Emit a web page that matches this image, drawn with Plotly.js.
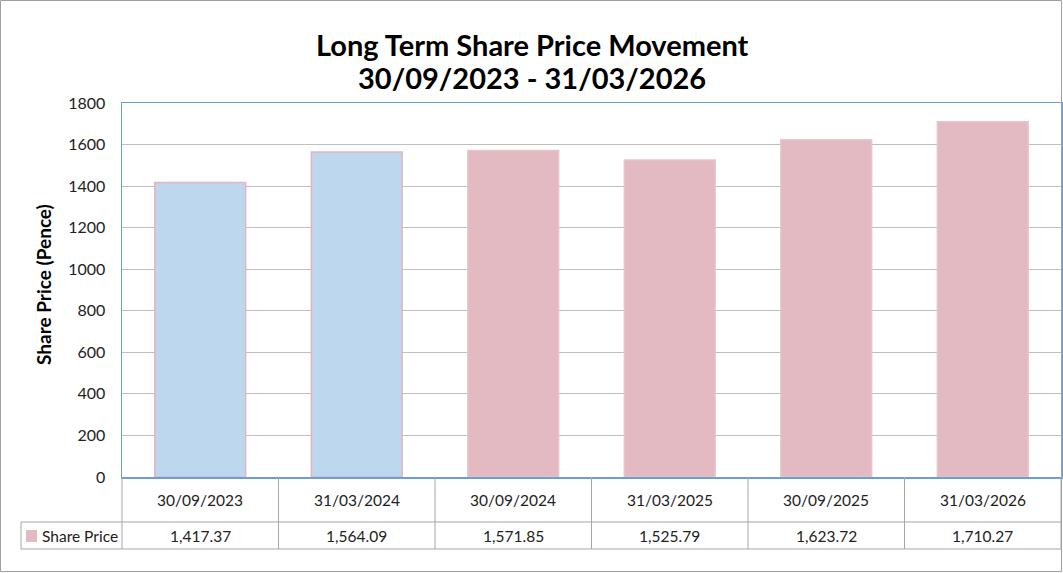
<!DOCTYPE html>
<html>
<head>
<meta charset="utf-8">
<script src="https://cdn.plot.ly/plotly-3.0.1.min.js"></script>
<style>
  html, body { margin: 0; padding: 0; background: #fff; }
  #chart { width: 1063px; height: 573px; }
</style>
</head>
<body>
<div id="chart"></div>
<script>
  const dates = ["30/09/2023", "31/03/2024", "30/09/2024", "31/03/2025", "30/09/2025", "31/03/2026"];
  const sharePrice = [1417.37, 1564.09, 1571.85, 1525.79, 1623.72, 1710.27];
  const barFill = ["#BDD7EE", "#BDD7EE", "#E3B9C2", "#E3B9C2", "#E3B9C2", "#E3B9C2"];
  const barEdge = ["#E6B3BF", "#E6B3BF", "#E8C3CB", "#E8C3CB", "#E8C3CB", "#E8C3CB"];
  const seriesName = "Share Price";

  const FONT = "Lato, 'Open Sans', sans-serif";
  const W = 1063, H = 573;
  const margin = { l: 122, r: 2, t: 103, b: 96 };
  const plotW = W - margin.l - margin.r;
  const plotH = H - margin.t - margin.b;
  // pixel position -> paper units (works outside the plot area too)
  const py = (px) => (H - margin.b - px) / plotH;
  const pxX = (px) => (px - margin.l) / plotW;

  const fmt = (v) => v.toLocaleString("en-GB", { minimumFractionDigits: 2, maximumFractionDigits: 2 });

  const tableLine = { color: "#A6A6A6", width: 1 };
  const shapes = [];
  // data table grid
  shapes.push({ type: "line", xref: "paper", yref: "paper", x0: 0, x1: 1, y0: py(522), y1: py(522), line: tableLine });
  shapes.push({ type: "line", xref: "paper", yref: "paper", x0: pxX(21), x1: 1, y0: py(549), y1: py(549), line: tableLine });
  shapes.push({ type: "line", xref: "paper", yref: "paper", x0: pxX(21), x1: 0, y0: py(522), y1: py(522), line: tableLine });
  shapes.push({ type: "line", xref: "paper", yref: "paper", x0: pxX(21), x1: pxX(21), y0: py(522), y1: py(549), line: tableLine });
  for (let k = 0; k <= dates.length; k++) {
    shapes.push({ type: "line", xref: "paper", yref: "paper", x0: k / dates.length, x1: k / dates.length,
      y0: 0, y1: py(549), line: tableLine });
  }
  // legend key
  shapes.push({ type: "rect", xref: "paper", yref: "paper", x0: pxX(26), x1: pxX(37), y0: py(542), y1: py(530),
    fillcolor: "#E3B9C2", line: { width: 0 } });
  // outer chart border
  shapes.push({ type: "rect", xref: "paper", yref: "paper", x0: pxX(0.5), x1: pxX(1061.5), y0: py(571.5), y1: py(0.5),
    line: { color: "#A0A0A0", width: 1 }, fillcolor: "rgba(0,0,0,0)" });

  const cellFont = { family: FONT, size: 15.5, color: "#222" };
  const annotations = [];
  dates.forEach((d, i) => {
    annotations.push({ x: i, xref: "x", y: py(500), yref: "paper", xanchor: "center", yanchor: "middle",
      text: d, showarrow: false, font: cellFont });
    annotations.push({ x: i, xref: "x", y: py(536), yref: "paper", xanchor: "center", yanchor: "middle",
      text: fmt(sharePrice[i]), showarrow: false, font: cellFont });
  });
  annotations.push({ x: pxX(40), xref: "paper", y: py(536), yref: "paper", xanchor: "left", yanchor: "middle",
    text: seriesName, showarrow: false, font: cellFont });
  annotations.push({ x: pxX(532), xref: "paper", y: py(44), yref: "paper", xanchor: "center", yanchor: "middle",
    text: "Long Term Share Price Movement", showarrow: false,
    font: { family: FONT, size: 29, color: "#000", weight: "bold" } });
  annotations.push({ x: pxX(532), xref: "paper", y: py(78), yref: "paper", xanchor: "center", yanchor: "middle",
    text: "30/09/2023 - 31/03/2026", showarrow: false,
    font: { family: FONT, size: 29, color: "#000", weight: "bold" } });
  annotations.push({ x: pxX(43), xref: "paper", y: py(285), yref: "paper", xanchor: "center", yanchor: "middle",
    text: "Share Price (Pence)", textangle: -90, showarrow: false,
    font: { family: FONT, size: 19, color: "#000", weight: "bold" } });

  const trace = {
    type: "bar",
    x: dates.map((d, i) => i),
    y: sharePrice,
    name: seriesName,
    width: 0.58,
    marker: { color: barFill, line: { color: barEdge, width: 1.5 } },
    hoverinfo: "y"
  };

  const layout = {
    width: W, height: H,
    margin: margin,
    paper_bgcolor: "#fff",
    plot_bgcolor: "#fff",
    showlegend: false,
    font: { family: FONT, color: "#222" },
    xaxis: {
      range: [-0.5, dates.length - 0.5],
      showticklabels: false, ticks: "", showgrid: false, zeroline: false,
      showline: true, linecolor: "#6A9FD4", linewidth: 1.5, mirror: true, fixedrange: true
    },
    yaxis: {
      range: [0, 1800], dtick: 200, tick0: 0,
      showgrid: true, gridcolor: "#BFBFBF", gridwidth: 1.2, zeroline: false,
      showline: true, linecolor: "#6A9FD4", linewidth: 1.5, mirror: true,
      ticks: "", ticklabelstandoff: 12,
      tickfont: { family: FONT, size: 16, color: "#222" }, fixedrange: true
    },
    shapes: shapes,
    annotations: annotations
  };

  Plotly.newPlot("chart", [trace], layout, { displayModeBar: false, staticPlot: true });
</script>
</body>
</html>
